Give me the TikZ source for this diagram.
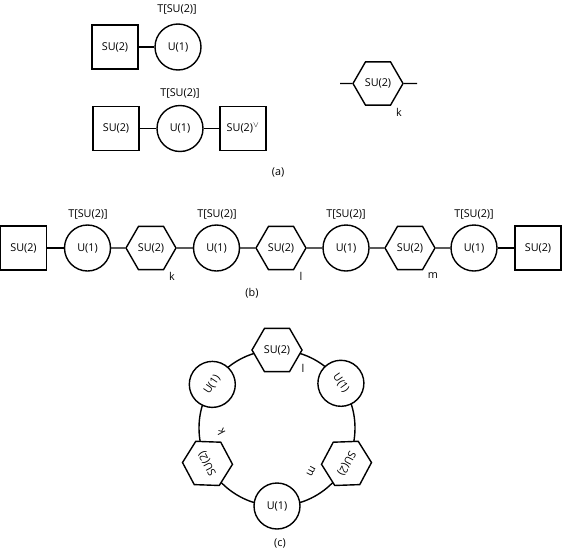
\documentclass[tikz,border=0pt]{standalone}
\usepackage{fontspec}
\setmainfont{Open Sans}
\usetikzlibrary{shapes.geometric}
\begin{document}
\begin{tikzpicture}[x=1pt,y=-1pt,
  every node/.style={font=\fontsize{10.8}{13}\selectfont, inner sep=0pt},
  sq/.style={draw, line width=1.4pt, fill=white, minimum width=46pt, minimum height=44pt},
  gc/.style={draw, circle, line width=1.4pt, fill=white, minimum size=46pt},
  hx/.style={draw, regular polygon, regular polygon sides=6, line width=1.4pt, fill=white, minimum size=50pt},
  ln/.style={line width=1.4pt}
]
\useasboundingbox (0,0) rectangle (562,549);

% ---------- (a) ----------
\node[sq] (a1s) at (115,47) {SU(2)};
\node[gc] (a1c) at (178,47) {U(1)};
\node (a1t) at (177,9) {T[SU(2)]};
\draw[ln] (a1s) -- (a1c);

\node[sq] (a2s) at (116,128.5) {SU(2)};
\node[gc] (a2c) at (180,128.5) {U(1)};
\node[sq] (a2r) at (243,128.5) {SU(2)$^{\vee}$};
\node (a2t) at (180,93) {T[SU(2)]};
\draw[ln] (a2s) -- (a2c);
\draw[ln] (a2c) -- (a2r);

\node[hx] (ah) at (378,83.5) {SU(2)};
\coordinate (ahl) at (340,83.5);
\coordinate (ahr) at (417,83.5);
\draw[ln] (ahl) -- (ah);
\draw[ln] (ah) -- (ahr);
\node (ak) at (399,112) {k};
\node (alab) at (278,172) {(a)};

% ---------- (b) ----------
\node[sq] (b1) at (23.5,248) {SU(2)};
\node[gc] (b2) at (87.5,248) {U(1)};
\node[hx] (b3) at (151,248) {SU(2)};
\node[gc] (b4) at (216.5,248) {U(1)};
\node[hx] (b5) at (281,248) {SU(2)};
\node[gc] (b6) at (346,248) {U(1)};
\node[hx] (b7) at (410,248) {SU(2)};
\node[gc] (b8) at (474,248) {U(1)};
\node[sq] (b9) at (538,248) {SU(2)};
\foreach \u/\v in {b1/b2,b2/b3,b3/b4,b4/b5,b5/b6,b6/b7,b7/b8,b8/b9}
  \draw[ln] (\u) -- (\v);
\node (bt1) at (88,214) {T[SU(2)]};
\node (bt2) at (217,214) {T[SU(2)]};
\node (bt3) at (346,214) {T[SU(2)]};
\node (bt4) at (474,214) {T[SU(2)]};
\node (bk) at (172,276) {k};
\node (bl) at (301,276) {l};
\node (bm) at (433,276) {m};
\node (blab) at (252,293) {(b)};

% ---------- (c) ----------
\coordinate (cc) at (277,428);
\draw[ln] (cc) circle[radius=78pt];
\node[hx] (c1) at (277,350) {SU(2)};
\node[gc, rotate=-55] (c2) at (340.9,383.3) {U(1)};
\node[hx, rotate=-118] (c3) at (346.5,463.4) {SU(2)};
\node[gc] (c4) at (277,506) {U(1)};
\node[hx, rotate=118] (c5) at (207.5,463.4) {SU(2)};
\node[gc, rotate=56] (c6) at (212.3,384.4) {U(1)};
\node (cl) at (303,368) {l};
\node[rotate=-118] (cm) at (311,471) {m};
\node[rotate=118] (ck) at (221,432) {k};
\node (clab) at (280,543) {(c)};
\end{tikzpicture}
\end{document}
